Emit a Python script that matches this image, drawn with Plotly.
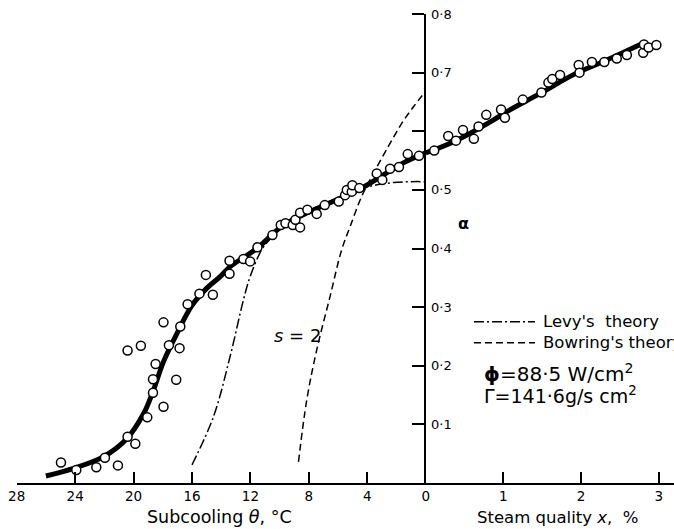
import plotly.graph_objects as go

W, H = 674, 529

# ---- axis ticks -------------------------------------------------------
subcool_ticks = [28, 24, 20, 16, 12, 8, 4, 0]
quality_ticks = [1, 2, 3]
alpha_ticks = [0.1, 0.2, 0.3, 0.4, 0.5, 0.6, 0.7, 0.8]
alpha_ticktext = ["0·1", "0·2", "0·3", "0·4", "0·5", "", "0·7", "0·8"]

# ---- measured void fraction, subcooled region (theta in degC) ----------
theta_pts = [24.97, 23.92, 22.55, 21.96, 21.07, 20.41, 19.5, 20.41, 19.88, 19.06,
             17.95, 18.67, 18.67, 18.49, 17.08, 17.58, 16.85, 17.95, 16.8, 16.3,
             15.49, 14.57, 15.05, 13.43, 13.43, 12.48, 12.02, 11.52, 10.49, 9.92,
             9.6, 9.1, 8.6, 8.92, 8.6, 8.1, 7.46, 6.91, 5.95, 5.52,
             5.4, 5.06, 5.02, 4.54, 3.35, 2.97, 2.44, 1.83, 1.23, 0.46]
alpha_sub_pts = [0.035, 0.022, 0.027, 0.043, 0.030, 0.226, 0.234, 0.079, 0.067, 0.112,
                 0.130, 0.154, 0.177, 0.203, 0.176, 0.235, 0.230, 0.274, 0.267, 0.305,
                 0.323, 0.321, 0.355, 0.357, 0.379, 0.382, 0.378, 0.402, 0.423, 0.440,
                 0.443, 0.440, 0.436, 0.449, 0.461, 0.466, 0.459, 0.474, 0.480, 0.491,
                 0.500, 0.497, 0.508, 0.503, 0.528, 0.517, 0.536, 0.539, 0.561, 0.558]

# ---- measured void fraction, bulk boiling region (x in %) -------------
quality_pts = [0.11, 0.29, 0.39, 0.48, 0.62, 0.68, 0.78, 0.97, 1.02, 1.25,
               1.49, 1.58, 1.63, 1.73, 1.97, 1.98, 2.14, 2.30, 2.46, 2.59,
               2.80, 2.81, 2.87, 2.97]
alpha_q_pts = [0.567, 0.592, 0.584, 0.602, 0.587, 0.608, 0.628, 0.637, 0.623, 0.654,
               0.666, 0.683, 0.689, 0.696, 0.713, 0.700, 0.718, 0.718, 0.724, 0.730,
               0.734, 0.748, 0.743, 0.747]

# ---- best-fit curve ---------------------------------------------------
fit_theta = [26.0, 24.1, 22.05, 20.45, 19.3, 18.63, 17.95, 17.03, 16.0, 15.0,
             14.07, 13.39, 11.56, 9.74, 7.91, 6.09, 4.04, 1.53, 0.0]
fit_alpha_sub = [0.012, 0.025, 0.045, 0.076, 0.119, 0.159, 0.207, 0.255, 0.303, 0.332,
                 0.352, 0.369, 0.400, 0.440, 0.463, 0.483, 0.508, 0.546, 0.563]
fit_quality = [0.0, 0.36, 0.87, 1.05, 1.48, 1.91, 2.34, 2.81]
fit_alpha_q = [0.563, 0.582, 0.619, 0.634, 0.665, 0.697, 0.722, 0.751]

# ---- Levy's theory ----------------------------------------------------
levy_theta = [16.0, 14.53, 13.39, 12.48, 12.02, 11.22, 10.5, 9.0, 7.0, 5.0,
              4.0, 3.0, 2.0, 1.0, 0.0]
levy_alpha = [0.031, 0.113, 0.216, 0.312, 0.352, 0.398, 0.420, 0.452, 0.476, 0.497,
              0.505, 0.510, 0.513, 0.514, 0.514]

# ---- Bowring's theory (s = 2) -----------------------------------------
bowring_theta = [8.71, 8.14, 7.46, 6.55, 5.75, 5.18, 4.38, 3.58, 2.56, 1.6, 0.8, 0.0]
bowring_alpha = [0.036, 0.142, 0.227, 0.318, 0.398, 0.437, 0.489, 0.528, 0.574, 0.615,
                 0.643, 0.668]

FONT = "DejaVu Sans"
INK = "black"

LEVY_DASH = "10px,3px,2px,3px"
BOWRING_DASH = "7px,4px"

# plot-area geometry in pixels
x_left, x_zero, x_right = 16.7, 425.7, W
y_zero, y_top = 483.0, 14.0
SUBCOOL_MAX = 28.0
ALPHA_MAX = 0.8
quality_per_px = 1 / 77.67
X_TICK_LEN_PX = 11
Y_TICK_LEN_PX = 12


def px_x(x):
    return x / W


def px_y(y):
    return 1 - y / H


fig = go.Figure()

fig.add_trace(go.Scatter(x=levy_theta, y=levy_alpha, mode="lines", xaxis="x", yaxis="y",
                         line=dict(color=INK, width=1.5, dash=LEVY_DASH),
                         line_shape="spline", showlegend=False))
fig.add_trace(go.Scatter(x=bowring_theta, y=bowring_alpha, mode="lines", xaxis="x", yaxis="y",
                         line=dict(color=INK, width=1.5, dash=BOWRING_DASH),
                         line_shape="spline", showlegend=False))
fig.add_trace(go.Scatter(x=fit_theta, y=fit_alpha_sub, mode="lines", xaxis="x", yaxis="y",
                         line=dict(color=INK, width=5), line_shape="spline",
                         showlegend=False))
fig.add_trace(go.Scatter(x=fit_quality, y=fit_alpha_q, mode="lines", xaxis="x2", yaxis="y",
                         line=dict(color=INK, width=5), line_shape="spline",
                         showlegend=False))

marker_style = dict(symbol="circle", size=9, color="white",
                    line=dict(color=INK, width=1.5))
fig.add_trace(go.Scatter(x=theta_pts, y=alpha_sub_pts, mode="markers", xaxis="x", yaxis="y",
                         marker=marker_style, cliponaxis=False, showlegend=False))
fig.add_trace(go.Scatter(x=quality_pts, y=alpha_q_pts, mode="markers", xaxis="x2", yaxis="y",
                         marker=marker_style, cliponaxis=False, showlegend=False))

common_x = dict(showgrid=False, zeroline=False, showline=True, linecolor=INK, linewidth=2,
                ticks="inside", ticklen=X_TICK_LEN_PX, tickwidth=2, tickcolor=INK,
                tickfont=dict(family=FONT, size=13.5, color=INK), anchor="y",
                showticklabels=True, automargin=False, ticklabeloverflow="allow",
                tickmode="array", layer="above traces")

fig.update_layout(
    width=W, height=H,
    margin=dict(l=0, r=0, t=0, b=0),
    paper_bgcolor="white", plot_bgcolor="white",
    xaxis=dict(domain=[px_x(x_left), px_x(x_zero)], range=[SUBCOOL_MAX, 0],
               tickvals=subcool_ticks, ticktext=[str(v) for v in subcool_ticks],
               **common_x),
    xaxis2=dict(domain=[px_x(x_zero), 1.0], range=[0, (x_right - x_zero) * quality_per_px],
                tickvals=quality_ticks, ticktext=[str(v) for v in quality_ticks],
                **common_x),
    yaxis=dict(domain=[px_y(y_zero), px_y(y_top)], range=[0, ALPHA_MAX], anchor="x2",
               side="left", showgrid=False, zeroline=False, showline=True,
               linecolor=INK, linewidth=2, ticks="outside", ticklen=Y_TICK_LEN_PX,
               tickwidth=2, tickcolor=INK, tickmode="array", tickvals=alpha_ticks,
               showticklabels=False, automargin=False, layer="above traces"),
    showlegend=False,
)

# alpha tick labels sit on the right-hand side of the vertical axis
for v, t in zip(alpha_ticks, alpha_ticktext):
    if t:
        fig.add_annotation(text=t, xref="x2", yref="y", x=0, y=v, xshift=3,
                           xanchor="left", yanchor="middle", showarrow=False,
                           font=dict(family=FONT, size=13, color=INK))

# key for the two theory curves
fig.add_shape(type="line", xref="paper", yref="paper",
              x0=px_x(474), x1=px_x(535), y0=px_y(321.7), y1=px_y(321.7),
              line=dict(color=INK, width=1.5, dash=LEVY_DASH))
fig.add_shape(type="line", xref="paper", yref="paper",
              x0=px_x(474), x1=px_x(535), y0=px_y(342.7), y1=px_y(342.7),
              line=dict(color=INK, width=1.5, dash=BOWRING_DASH))


def label(text, x, y, size, xanchor="left"):
    fig.add_annotation(text=text, xref="paper", yref="paper", x=px_x(x), y=px_y(y),
                       xanchor=xanchor, yanchor="middle", showarrow=False,
                       font=dict(family=FONT, size=size, color=INK))


label("Levy's  theory", 541, 321.7, 16.5)
label("Bowring's theory", 541, 342.7, 16.5)
label("<b>ϕ</b>=88·5 W/cm<sup>2</sup>", 482, 373, 20)
label("Γ=141·6g/s cm<sup>2</sup>", 482, 395, 19)
label("<b>α</b>", 463, 223, 16, xanchor="center")
label("<i>s</i> = 2", 297, 335, 18, xanchor="center")
label("Subcooling <i>θ</i>, °C", 219, 517, 17.5, xanchor="center")
label("Steam quality <i>x</i>,  %", 557, 517, 16.5, xanchor="center")

fig.write_html("out.html")
